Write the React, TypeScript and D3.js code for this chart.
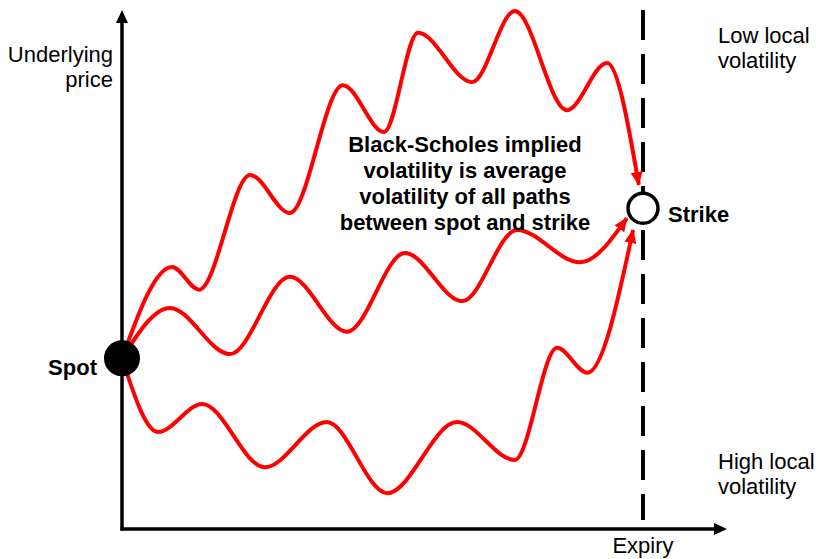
import React from "react";
import * as d3 from "d3";

// Abstract units: time 0..100 (spot -> expiry), price 0..100
const spot = { t: 0, p: 32.9 };
const strike = { t: 100, p: 61.8 };

const lowVolPath: [number, number][] = [
  [0, 32.9], [9.6, 50.5], [14.8, 46.1], [24.6, 68.2], [32.2, 60.9], [42.4, 85.5],
  [50.3, 76.5], [56.8, 95.6], [67.2, 86.1], [75.4, 99.8], [85.4, 80.7], [93.1, 89.8], [99.2, 66.3],
];
const midVolPath: [number, number][] = [
  [0, 32.9], [9.2, 42.6], [20.7, 33.7], [32.2, 48.6], [43.2, 38.0], [54.3, 53.2],
  [65.3, 43.9], [75.8, 57.6], [87.9, 51.4], [96.9, 59.9],
];
const highVolPath: [number, number][] = [
  [0, 32.9], [6.9, 18.7], [15.4, 24.1], [27.4, 11.9], [39.3, 20.6], [50.9, 6.9],
  [64.3, 20.6], [75.4, 13.3], [83.5, 34.9], [89.3, 30.1], [98.1, 57.6],
];
const paths = [lowVolPath, midVolPath, highVolPath];

const centerText = [
  "Black-Scholes implied",
  "volatility is average",
  "volatility of all paths",
  "between spot and strike",
];
const yLabel = ["Underlying", "price"];
const lowLabel = ["Low local", "volatility"];
const highLabel = ["High local", "volatility"];

const W = 816;
const H = 559;
const FONT = "'Liberation Sans', Arial, Helvetica, sans-serif";

export default function App() {
  const x = d3.scaleLinear().domain([0, 100]).range([122, 643]);
  const y = d3.scaleLinear().domain([0, 100]).range([529, 10]);
  const line = d3
    .line<[number, number]>()
    .x((d) => x(d[0]))
    .y((d) => y(d[1]))
    .curve(d3.curveMonotoneX);

  const x0 = x(0);
  const y0 = y(0);
  const xEnd = 727;
  const yTop = 10;

  return (
    <svg
      width={W}
      height={H}
      style={{ position: "absolute", left: 0, top: 0, background: "#fff" }}
      fontFamily={FONT}
    >
      <defs>
        <marker
          id="redArrow"
          markerUnits="userSpaceOnUse"
          markerWidth={14}
          markerHeight={12}
          viewBox="0 0 14 12"
          refX={13}
          refY={6}
          orient="auto"
        >
          <path d="M0,0 L14,6 L0,12 Z" fill="#ff0000" />
        </marker>
      </defs>

      {/* Expiry dashed line */}
      <line
        x1={x(100)}
        x2={x(100)}
        y1={10}
        y2={520}
        stroke="#000"
        strokeWidth={4}
        strokeDasharray="30 14"
      />

      {/* Axes */}
      <line x1={x0} x2={x0} y1={y0 + 1.5} y2={yTop + 10} stroke="#000" strokeWidth={3.5} />
      <path d={`M${x0},${yTop} L${x0 - 6},${yTop + 13} L${x0 + 6},${yTop + 13} Z`} fill="#000" />
      <line x1={x0 - 1.5} x2={xEnd - 10} y1={y0} y2={y0} stroke="#000" strokeWidth={3.5} />
      <path d={`M${xEnd},${y0} L${xEnd - 13},${y0 - 6} L${xEnd - 13},${y0 + 6} Z`} fill="#000" />

      {/* Paths */}
      {paths.map((p, i) => (
        <path
          key={i}
          d={line(p) || ""}
          fill="none"
          stroke="#ff0000"
          strokeWidth={4}
          markerEnd="url(#redArrow)"
        />
      ))}

      {/* Spot & strike */}
      <circle cx={x(spot.t)} cy={y(spot.p)} r={18} fill="#000" />
      <circle cx={x(strike.t)} cy={y(strike.p)} r={15} fill="#fff" stroke="#000" strokeWidth={3.5} />

      {/* Labels */}
      <text x={97} y={y(spot.p) + 17} textAnchor="end" fontWeight="bold" fontSize={22}>
        Spot
      </text>
      <text x={668} y={y(strike.p) + 14} fontWeight="bold" fontSize={22}>
        Strike
      </text>
      {yLabel.map((s, i) => (
        <text key={s} x={113} y={62 + i * 25} textAnchor="end" fontSize={22}>
          {s}
        </text>
      ))}
      {lowLabel.map((s, i) => (
        <text key={s} x={718} y={43 + i * 25} fontSize={22}>
          {s}
        </text>
      ))}
      {highLabel.map((s, i) => (
        <text key={s} x={718} y={469 + i * 25} fontSize={22}>
          {s}
        </text>
      ))}
      <text x={x(100)} y={553} textAnchor="middle" fontSize={22}>
        Expiry
      </text>
      {centerText.map((s, i) => (
        <text
          key={s}
          x={465}
          y={152 + i * 26}
          textAnchor="middle"
          fontWeight="bold"
          fontSize={22}
        >
          {s}
        </text>
      ))}
    </svg>
  );
}
